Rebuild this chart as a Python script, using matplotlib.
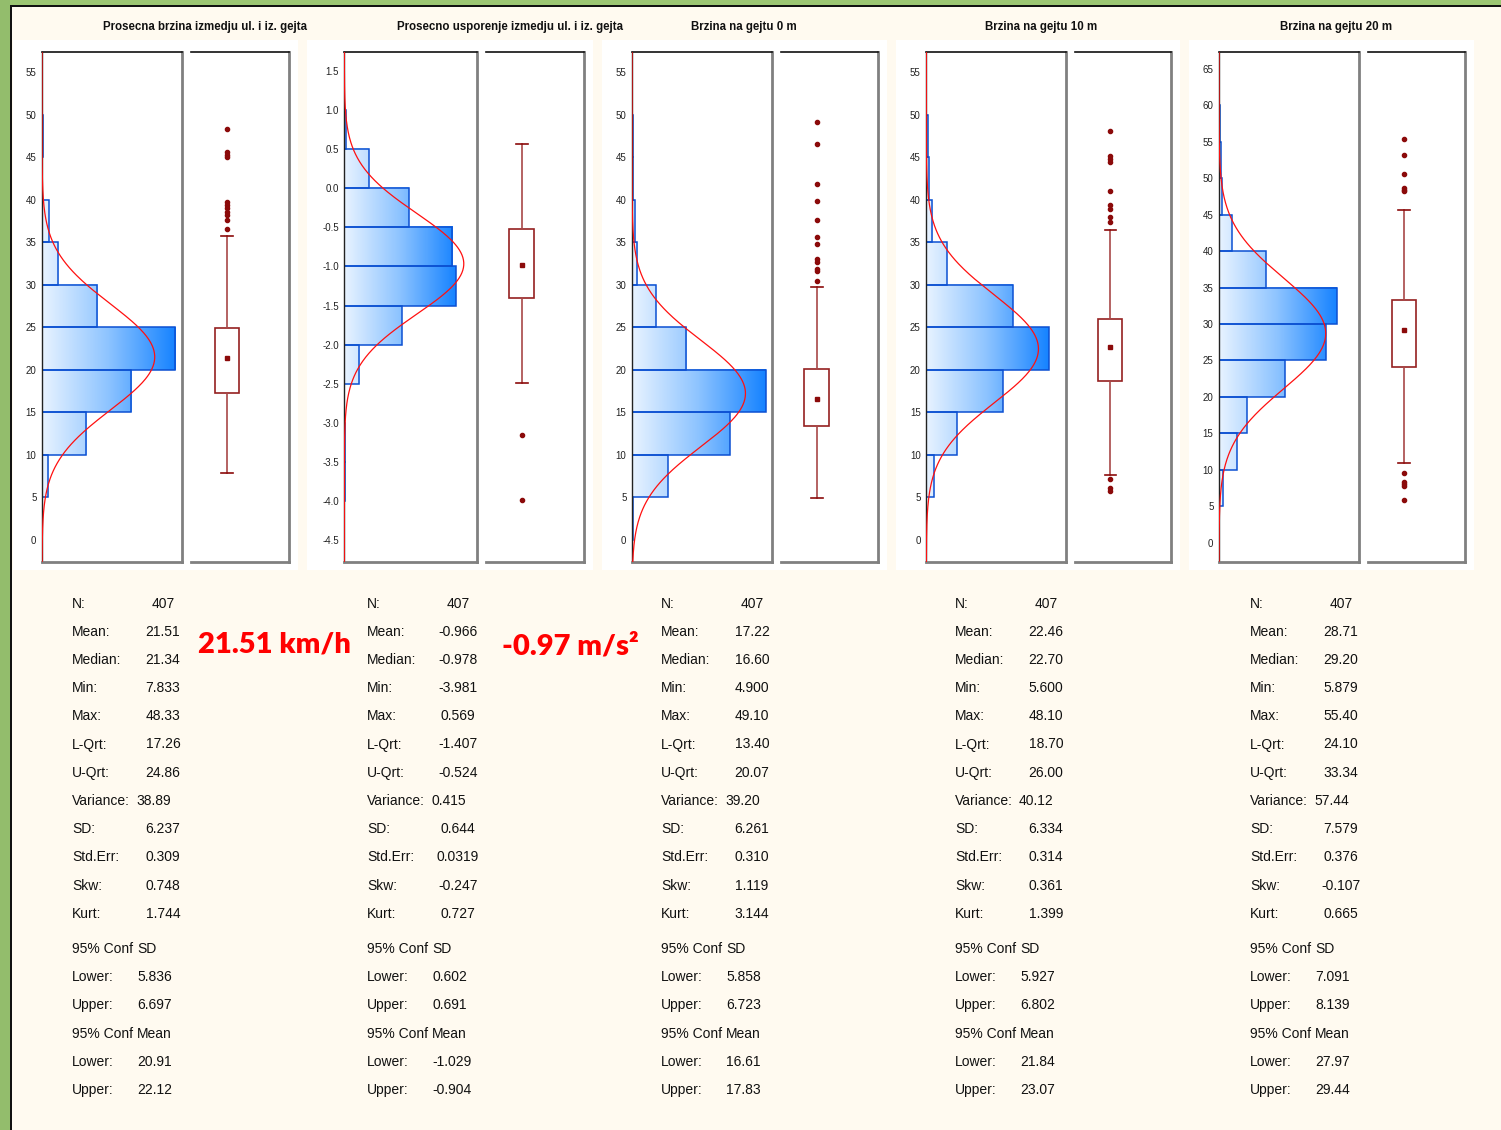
import numpy as np
import matplotlib
matplotlib.use("Agg")
import matplotlib.pyplot as plt
from matplotlib.colors import LinearSegmentedColormap
from matplotlib.patches import Rectangle

# -------------------------
# Data
# -------------------------
titles = ["Prosecna brzina izmedju ul. i iz. gejta",
          "Prosecno usporenje izmedju ul. i iz. gejta",
          "Brzina na gejtu 0 m",
          "Brzina na gejtu 10 m",
          "Brzina na gejtu 20 m"]

edges_1 = [0, 5, 10, 15, 20, 25, 30, 35, 40, 45, 50, 55]
counts_1 = [0, 7, 51, 103, 154, 64, 19, 8, 0, 1, 0]
edges_2 = [-4.5, -4.0, -3.5, -3.0, -2.5, -2.0, -1.5, -1.0, -0.5, 0.0, 0.5, 1.0, 1.5]
counts_2 = [0, 1, 1, 0, 16, 61, 118, 114, 68, 26, 2, 0]
edges_3 = [0, 5, 10, 15, 20, 25, 30, 35, 40, 45, 50, 55]
counts_3 = [1, 41, 112, 153, 62, 27, 6, 3, 1, 1, 0]
edges_4 = [0, 5, 10, 15, 20, 25, 30, 35, 40, 45, 50, 55]
counts_4 = [0, 9, 35, 88, 140, 99, 24, 7, 3, 2, 0]
edges_5 = [0, 5, 10, 15, 20, 25, 30, 35, 40, 45, 50, 55, 60, 65]
counts_5 = [0, 4, 18, 28, 66, 107, 118, 47, 13, 3, 2, 1, 0]

yticks_1 = [0, 5, 10, 15, 20, 25, 30, 35, 40, 45, 50, 55]
yticks_2 = [-4.5, -4.0, -3.5, -3.0, -2.5, -2.0, -1.5, -1.0, -0.5, 0.0, 0.5, 1.0, 1.5]
yticks_5 = [0, 5, 10, 15, 20, 25, 30, 35, 40, 45, 50, 55, 60, 65]

ylims = [(-2.56, 57.4), (-4.776, 1.746), (-2.56, 57.4), (-2.56, 57.4), (-2.61, 67.37)]
xlims = [162, 140, 160, 160, 140.5]

# box plot: whisker low, q1, median, q3, whisker high, outliers
box_1 = dict(whislo=7.833, q1=17.26, med=21.34, q3=24.86, whishi=35.7,
             fliers=[48.33, 45.6, 45.3, 45.0, 39.7, 39.4, 39.0, 38.6, 38.2, 37.6, 36.5])
box_2 = dict(whislo=-2.494, q1=-1.407, med=-0.978, q3=-0.524, whishi=0.569,
             fliers=[-3.153, -3.981])
box_3 = dict(whislo=4.9, q1=13.40, med=16.60, q3=20.07, whishi=29.77,
             fliers=[49.1, 46.6, 41.85, 39.9, 37.6, 35.6, 34.8, 33.0, 32.7, 31.9, 31.6, 30.5])
box_4 = dict(whislo=7.6, q1=18.70, med=22.70, q3=26.00, whishi=36.4,
             fliers=[48.1, 45.1, 44.8, 44.4, 41.05, 39.4, 38.9, 37.95, 37.4, 7.2, 6.1, 5.8])
box_5 = dict(whislo=10.98, q1=24.10, med=29.20, q3=33.34, whishi=45.7,
             fliers=[55.4, 53.2, 50.55, 48.6, 48.4, 48.2, 9.6, 8.3, 8.05, 7.82, 5.879])

# descriptive statistics
n_vals = [407, 407, 407, 407, 407]
mean_vals = [21.51, -0.966, 17.22, 22.46, 28.71]
sd_vals = [6.237, 0.644, 6.261, 6.334, 7.579]
bin_w = [5, 0.5, 5, 5, 5]

stat_labels = ["N:", "Mean:", "Median:", "Min:", "Max:", "L-Qrt:", "U-Qrt:",
               "Variance:", "SD:", "Std.Err:", "Skw:", "Kurt:"]
stat_text_1 = ["407", "21.51", "21.34", "7.833", "48.33", "17.26", "24.86",
               "38.89", "6.237", "0.309", "0.748", "1.744"]
stat_text_2 = ["407", "-0.966", "-0.978", "-3.981", "0.569", "-1.407", "-0.524",
               "0.415", "0.644", "0.0319", "-0.247", "0.727"]
stat_text_3 = ["407", "17.22", "16.60", "4.900", "49.10", "13.40", "20.07",
               "39.20", "6.261", "0.310", "1.119", "3.144"]
stat_text_4 = ["407", "22.46", "22.70", "5.600", "48.10", "18.70", "26.00",
               "40.12", "6.334", "0.314", "0.361", "1.399"]
stat_text_5 = ["407", "28.71", "29.20", "5.879", "55.40", "24.10", "33.34",
               "57.44", "7.579", "0.376", "-0.107", "0.665"]
conf_sd = [("5.836", "6.697"), ("0.602", "0.691"), ("5.858", "6.723"),
           ("5.927", "6.802"), ("7.091", "8.139")]
conf_mean = [("20.91", "22.12"), ("-1.029", "-0.904"), ("16.61", "17.83"),
             ("21.84", "23.07"), ("27.97", "29.44")]

big_labels = ["21.51 km/h", "-0.97 m/s\u00b2"]

edges_all = [edges_1, edges_2, edges_3, edges_4, edges_5]
counts_all = [counts_1, counts_2, counts_3, counts_4, counts_5]
yticks_all = [yticks_1, yticks_2, yticks_1, yticks_1, yticks_5]
boxes = [box_1, box_2, box_3, box_4, box_5]
stat_texts = [stat_text_1, stat_text_2, stat_text_3, stat_text_4, stat_text_5]

# -------------------------
# Layout (pixels)
# -------------------------
W, H = 1501, 1130
hist_x = [(42, 182.3), (344.3, 477), (632, 772), (926.3, 1066.3), (1219, 1359)]
box_x = [(191, 288.7), (485.7, 583.7), (781, 878), (1075.3, 1170.7), (1368.3, 1465)]
white_left = [13, 307, 602, 896, 1189]
title_x = [103, 397, 691, 985, 1280]
label_x = [72, 367, 661, 955, 1250]
AX_TOP, AX_BOT = 51.7, 561.7
FS = 10

plt.rcParams['font.family'] = ['Liberation Sans', 'DejaVu Sans']

fig = plt.figure(figsize=(W / 100, H / 100), dpi=100)
fig.patch.set_facecolor('#fffaf0')


def fx(x):
    return x / W


def fy(y):
    return 1 - y / H


def rect(x0, y0, x1, y1):
    return [fx(x0), fy(y1), (x1 - x0) / W, (y1 - y0) / H]


# frame: green strip + black line on top and left
fig.patches.append(Rectangle((0, fy(4.5)), 1, 4.5 / H, transform=fig.transFigure,
                             facecolor='#9cc673', edgecolor='none', zorder=-2))
fig.patches.append(Rectangle((0, 0), fx(10), 1, transform=fig.transFigure,
                             facecolor='#93bd6c', edgecolor='none', zorder=-2))
fig.patches.append(Rectangle((fx(10), fy(6.5)), 1, 2 / H, transform=fig.transFigure,
                             facecolor='#111111', edgecolor='none', zorder=-1))
fig.patches.append(Rectangle((fx(10), 0), 2 / W, fy(4.5), transform=fig.transFigure,
                             facecolor='#111111', edgecolor='none', zorder=-1))

cmap = LinearSegmentedColormap.from_list('bar', ['#e8f3ff', '#8cc3ff', '#1683ff'])
edge_blue = '#0b50d2'
dark_red = '#8b0a0a'

for i in range(5):
    # white card behind the two axes
    fig.patches.append(Rectangle((fx(white_left[i]), fy(570)),
                                 (box_x[i][1] + 9 - white_left[i]) / W, 530 / H,
                                 transform=fig.transFigure, facecolor='white',
                                 edgecolor='none', zorder=-1))
    fig.text(fx(title_x[i]), fy(30), titles[i], fontsize=8.3, fontweight='bold',
             ha='left', va='baseline', color='#111111')

    # ---- histogram ----
    ax = fig.add_axes(rect(hist_x[i][0], AX_TOP, hist_x[i][1], AX_BOT))
    ax.set_zorder(5)
    edges = edges_all[i]
    counts = counts_all[i]
    cmax = max(counts)
    for y0, y1, c in zip(edges[:-1], edges[1:], counts):
        if c > 0:
            grad = np.linspace(0, c / cmax, 128).reshape(1, -1)
            ax.imshow(grad, extent=(0, c, y0, y1), cmap=cmap, vmin=0, vmax=1,
                      aspect='auto', interpolation='bilinear', zorder=1)
    ax.barh(edges[:-1], counts, height=np.diff(edges), align='edge',
            facecolor='none', edgecolor=edge_blue, linewidth=1.1, zorder=2)

    yy = np.linspace(ylims[i][0], ylims[i][1], 400)
    pdf = n_vals[i] * bin_w[i] / (sd_vals[i] * np.sqrt(2 * np.pi)) * \
        np.exp(-0.5 * ((yy - mean_vals[i]) / sd_vals[i]) ** 2)
    ax.plot(pdf, yy, color='#ff1010', linewidth=0.9, zorder=3)

    ax.set_xlim(0, xlims[i])
    ax.set_ylim(*ylims[i])
    ax.set_xticks([])
    ax.set_yticks(yticks_all[i])
    if i == 1:
        ax.set_yticklabels([f"{t:.1f}" for t in yticks_all[i]])
    else:
        ax.set_yticklabels([f"{t:g}" for t in yticks_all[i]])
    ax.tick_params(axis='y', length=0, pad=4, labelsize=7, labelcolor='#222222')
    ax.set_facecolor('white')
    ax.spines['top'].set_color('#111111')
    ax.spines['left'].set_color('#222222')
    ax.spines['top'].set_linewidth(1.2)
    ax.spines['left'].set_linewidth(1.0)
    for s in ('right', 'bottom'):
        ax.spines[s].set_color('#808080')
        ax.spines[s].set_linewidth(2)

    # ---- box plot ----
    bx = fig.add_axes(rect(box_x[i][0], AX_TOP, box_x[i][1], AX_BOT))
    bx.set_zorder(5)
    st = dict(boxes[i])
    bx.bxp([st], positions=[0.368], widths=0.253, capwidths=0.12,
           showfliers=True, patch_artist=True,
           boxprops=dict(facecolor='white', edgecolor='#952020', linewidth=1.2),
           whiskerprops=dict(color='#a84848', linewidth=1.2),
           capprops=dict(color=dark_red, linewidth=1.2),
           medianprops=dict(linestyle='none'),
           flierprops=dict(marker='o', markersize=3.0, markerfacecolor=dark_red,
                           markeredgecolor=dark_red, linestyle='none'))
    bx.plot([0.368], [st['med']], 's', markersize=3.3, color=dark_red, zorder=5)
    bx.set_xlim(0, 1)
    bx.set_ylim(*ylims[i])
    bx.set_xticks([])
    bx.set_yticks([])
    bx.spines['left'].set_visible(False)
    bx.spines['top'].set_color('#111111')
    bx.spines['top'].set_linewidth(1.2)
    for s in ('right', 'bottom'):
        bx.spines[s].set_color('#808080')
        bx.spines[s].set_linewidth(2)

    # ---- statistics text ----
    lx = label_x[i]
    for k, (lab, val) in enumerate(zip(stat_labels, stat_texts[i])):
        yb = 607.5 + 28.2 * k
        fig.text(fx(lx), fy(yb), lab, fontsize=FS, ha='left', va='baseline',
                 color='#111111')
        if lab == "Variance:":
            fig.text(fx(lx + 64), fy(yb), val, fontsize=FS, ha='left',
                     va='baseline', color='#111111')
        else:
            fig.text(fx(lx + 91), fy(yb), val, fontsize=FS, ha='center',
                     va='baseline', color='#111111')
    block = [("95% Conf", "SD"), ("Lower:", conf_sd[i][0]), ("Upper:", conf_sd[i][1]),
             ("95% Conf", "Mean"), ("Lower:", conf_mean[i][0]), ("Upper:", conf_mean[i][1])]
    for k, (lab, val) in enumerate(block):
        yb = 952.6 + 28.3 * k
        fig.text(fx(lx), fy(yb), lab, fontsize=FS, ha='left', va='baseline',
                 color='#111111')
        fig.text(fx(lx + 65), fy(yb), val, fontsize=FS, ha='left',
                 va='baseline', color='#111111')

# big red annotations
fig.text(fx(274), fy(652.7), big_labels[0], fontsize=21, fontweight='heavy',
         family=['Lato', 'DejaVu Sans'], color='#ff0000', ha='center', va='baseline')
fig.text(fx(570), fy(654), big_labels[1], fontsize=21, fontweight='heavy',
         family=['Lato', 'DejaVu Sans'], color='#ff0000', ha='center', va='baseline')

fig.savefig("out.png", dpi=100, facecolor=fig.get_facecolor())
